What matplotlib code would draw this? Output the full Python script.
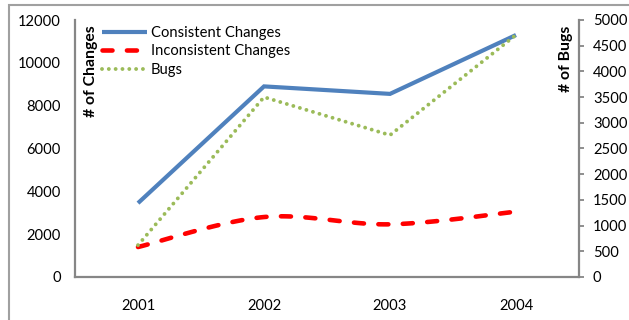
import numpy as np
import matplotlib
matplotlib.use("Agg")
import matplotlib.pyplot as plt
from matplotlib.lines import Line2D
from matplotlib.patches import Rectangle

years = ["2001", "2002", "2003", "2004"]
consistent_changes = [3450, 8900, 8550, 11300]
inconsistent_changes = [1400, 2800, 2460, 3050]
bugs = [620, 3500, 2760, 4710]

left_ticks = [0, 2000, 4000, 6000, 8000, 10000, 12000]
right_ticks = [0, 500, 1000, 1500, 2000, 2500, 3000, 3500, 4000, 4500, 5000]

BLUE = "#4F81BD"
RED = "#FF0000"
GREEN = "#9BBB59"
AXIS_GRAY = "#868686"
FS = 10.6

plt.rcParams["font.family"] = ["Lato", "DejaVu Sans"]
plt.rcParams["lines.scale_dashes"] = False


def smooth(xs, ys, n=40):
    """Catmull-Rom style smoothed curve through the points."""
    xs = np.asarray(xs, float)
    ys = np.asarray(ys, float)
    px, py = [], []
    k = len(xs)
    for i in range(k - 1):
        p0 = (xs[max(i - 1, 0)], ys[max(i - 1, 0)])
        p1 = (xs[i], ys[i])
        p2 = (xs[i + 1], ys[i + 1])
        p3 = (xs[min(i + 2, k - 1)], ys[min(i + 2, k - 1)])
        c1 = (p1[0] + (p2[0] - p0[0]) / 6, p1[1] + (p2[1] - p0[1]) / 6)
        c2 = (p2[0] - (p3[0] - p1[0]) / 6, p2[1] - (p3[1] - p1[1]) / 6)
        t = np.linspace(0, 1, n)
        bx = ((1 - t) ** 3 * p1[0] + 3 * (1 - t) ** 2 * t * c1[0]
              + 3 * (1 - t) * t ** 2 * c2[0] + t ** 3 * p2[0])
        by = ((1 - t) ** 3 * p1[1] + 3 * (1 - t) ** 2 * t * c1[1]
              + 3 * (1 - t) * t ** 2 * c2[1] + t ** 3 * p2[1])
        if i > 0:
            bx, by = bx[1:], by[1:]
        px.extend(bx)
        py.extend(by)
    return np.array(px), np.array(py)


fig = plt.figure(figsize=(6.29, 3.20), dpi=100)
fig.patch.set_facecolor("white")

# outer chart border
fig.patches.append(Rectangle((9 / 629, -0.1), 1.2, 1.1 - 4.5 / 320,
                             transform=fig.transFigure, fill=False,
                             edgecolor="#A0A0A0", lw=1.5))

ax = fig.add_axes([75 / 629, 1 - 277 / 320, (579 - 75) / 629, (277 - 20) / 320])
ax2 = ax.twinx()

x = np.arange(len(years))

ax.plot(x, consistent_changes, color=BLUE, lw=3.0, solid_capstyle="butt",
        solid_joinstyle="miter", zorder=3)
sx, sy = smooth(x, inconsistent_changes)
ax.plot(sx, sy, color=RED, lw=3.3, dashes=(7.2, 10.4),
        dash_capstyle="round", zorder=3)
ax2.plot(x, bugs, color=GREEN, lw=2.8, dashes=(0.01, 4.9),
         dash_capstyle="round", zorder=3)

ax.set_xlim(-0.5, 3.5)
ax.set_ylim(0, 12000)
ax2.set_ylim(0, 5000)

ax.set_xticks(x)
ax.set_xticklabels(years)
ax.set_yticks(left_ticks)
ax.set_yticklabels([str(v) for v in left_ticks])
ax2.set_yticks(right_ticks)
ax2.set_yticklabels([str(v) for v in right_ticks])

for a in (ax, ax2):
    for s in a.spines.values():
        s.set_visible(False)

ax.spines["left"].set_visible(True)
ax.spines["bottom"].set_visible(True)
ax2.spines["right"].set_visible(True)
for s in (ax.spines["left"], ax.spines["bottom"], ax2.spines["right"]):
    s.set_color(AXIS_GRAY)
    s.set_linewidth(1.6)

ax.tick_params(axis="x", length=0, pad=16, labelsize=FS)
ax.tick_params(axis="y", length=0, pad=10, labelsize=FS)
ax2.tick_params(axis="y", length=3.5, width=1.3, color=AXIS_GRAY, pad=6.5,
                labelsize=FS, direction="out")

ax.text(0.032, 0.98, "# of Changes", transform=ax.transAxes, rotation=90,
        ha="center", va="top", fontsize=11.3, fontweight="bold")
ax.text(0.974, 0.98, "# of Bugs", transform=ax.transAxes, rotation=90,
        ha="center", va="top", fontsize=11.3, fontweight="bold")

handles = [
    Line2D([], [], color=BLUE, lw=3.0, solid_capstyle="butt"),
    Line2D([], [], color=RED, lw=3.3, dashes=(7.2, 10.4), dash_capstyle="round"),
    Line2D([], [], color=GREEN, lw=2.8, dashes=(0.01, 4.9), dash_capstyle="round"),
]
labels = ["Consistent Changes", "Inconsistent Changes", "Bugs"]
ax.legend(handles, labels, loc="upper left", bbox_to_anchor=(0.0536, 0.977),
          frameon=False, fontsize=FS, handlelength=3.06, handletextpad=0.27,
          labelspacing=0.3, borderaxespad=0, borderpad=0)

fig.savefig("out.png", dpi=100, facecolor="white")
